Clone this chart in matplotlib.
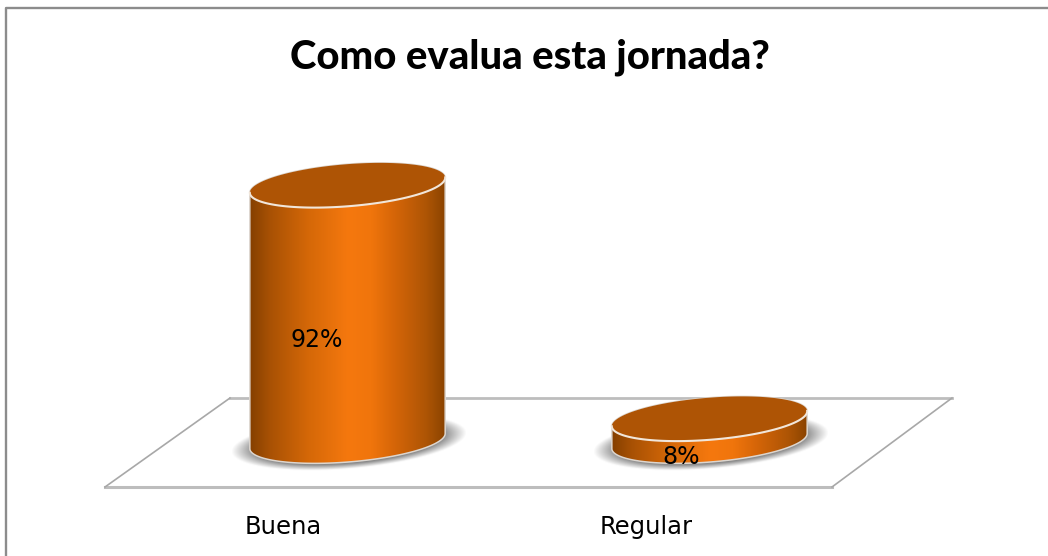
import numpy as np
import matplotlib
matplotlib.use("Agg")
import matplotlib.pyplot as plt
from matplotlib.colors import LinearSegmentedColormap
from matplotlib.patches import Polygon

categories = ["Buena", "Regular"]
values = [92, 8]
value_labels = ["92%", "8%"]
title = "Como evalua esta jornada?"

# everything is laid out in reference pixels
W, H = 1048, 556
CENTERS = [347.5, 709.5]
BASE_Y = 441
PX_PER_PCT = 2.78
A, B, TILT = 98, 21, np.radians(4.6)

ORANGE = LinearSegmentedColormap.from_list(
    "cyl", [(0, "#854000"), (0.10, "#a85104"), (0.30, "#d56808"), (0.50, "#f5780e"),
            (0.62, "#f0750c"), (0.74, "#d56508"), (0.90, "#ae5505"), (1, "#8a4300")])
TOP = "#ae5405"
GREY = "#bdbdbd"


def ellipse(cx, cy, a=A, b=B, n=200):
    t = np.linspace(0, 2 * np.pi, n)
    x = cx + a * np.cos(t) * np.cos(TILT) + b * np.sin(t) * np.sin(TILT)
    y = cy - a * np.cos(t) * np.sin(TILT) + b * np.sin(t) * np.cos(TILT)
    return np.column_stack([x, y])


def shadow(ax, cx, cy):
    xs = np.arange(cx - 135, cx + 135)
    ys = np.arange(cy - 50, cy + 50)
    xx, yy = np.meshgrid(xs, ys)
    dx = (xx - cx) / (A + 20)
    dy = (yy - cy + (xx - cx) * np.tan(TILT)) / (B + 6)
    r = np.sqrt(dx ** 2 + dy ** 2)
    rgba = np.zeros(xx.shape + (4,))
    rgba[..., :3] = 0.45
    rgba[..., 3] = 0.85 * np.clip((1.0 - r) / 0.2, 0, 1)
    ax.imshow(rgba, extent=(xs[0], xs[-1], ys[-1], ys[0]), aspect="auto",
              zorder=3, interpolation="bilinear")


def cylinder(ax, cx, value):
    top_y = BASE_Y - value * PX_PER_PCT
    bottom = ellipse(cx, BASE_Y)
    top = ellipse(cx, top_y)
    shadow(ax, cx + 1, BASE_Y + 1)

    # body = bottom half of lower ellipse + upper ellipse, gradient clipped to it
    lo = bottom[:100]
    body = np.vstack([lo, top[100:], top[:1]])
    ax.add_patch(Polygon(body, closed=True, fc="none", ec="#ddd6cf", lw=1.1, zorder=5))
    grad = np.linspace(0, 1, 256).reshape(1, -1)
    im = ax.imshow(grad, cmap=ORANGE, aspect="auto", zorder=4,
                   extent=(cx - A, cx + A, BASE_Y + B + 2, top_y - B - 2))
    im.set_clip_path(Polygon(body, closed=True, transform=ax.transData))
    ax.add_patch(Polygon(top, closed=True, fc=TOP, ec="none", zorder=6))
    ax.plot(top[:101, 0], top[:101, 1], color="#f1e6da", lw=1.5, zorder=7)


fig = plt.figure(figsize=(W / 100, H / 100), dpi=100)
ax = fig.add_axes([0, 0, 1, 1])
ax.set_xlim(0, W)
ax.set_ylim(H, 0)
ax.axis("off")

# chart frame, only left and top show in the picture
ax.plot([6, 6, W], [H, 8, 8], color="#8c8c8c", lw=1.7, zorder=1)

# floor
ax.plot([230, 952], [398, 398], color=GREY, lw=2, zorder=2)
ax.plot([105, 832], [487, 487], color=GREY, lw=2.2, zorder=2)
ax.plot([105, 230], [487, 398], color="#a8a8a8", lw=1.2, zorder=2)
ax.plot([832, 952], [487, 398], color="#a8a8a8", lw=1.2, zorder=2)

for cx, v in zip(CENTERS, values):
    cylinder(ax, cx, v)

ax.set_xlim(0, W)
ax.set_ylim(H, 0)

for x, y, lab in zip([317, 681], [340, 457], value_labels):
    ax.text(x, y, lab, ha="center", va="center", fontsize=17, color="black", zorder=8)
for x, lab in zip([283.5, 646.5], categories):
    ax.text(x, 527, lab, ha="center", va="center", fontsize=17.5, color="black")

ax.text(530, 57, title, ha="center", va="center", fontsize=28.8, fontweight="black",
        family=["Lato", "DejaVu Sans"], color="black")

fig.savefig("out.png", dpi=100)
